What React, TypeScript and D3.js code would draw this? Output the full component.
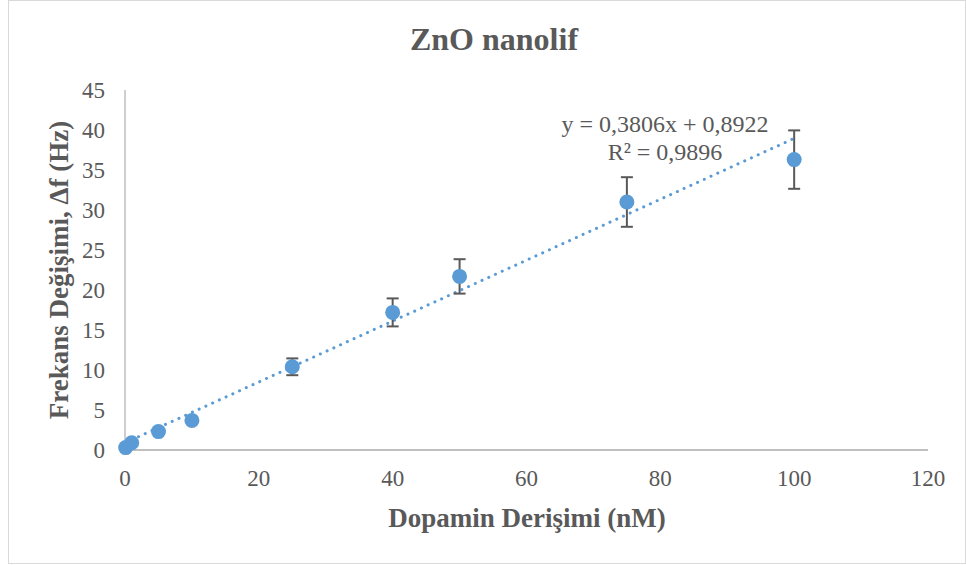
import React from "react";
import * as d3 from "d3";

const concentrations = [0.1, 1, 5, 10, 25, 40, 50, 75, 100];
const frequencyShift = [0.3, 0.9, 2.3, 3.7, 10.4, 17.2, 21.7, 31.0, 36.3];
const errors = [0.1, 0.2, 0.3, 0.3, 1.05, 1.75, 2.15, 3.1, 3.65];
const xTicks = [0, 20, 40, 60, 80, 100, 120];
const yTicks = [0, 5, 10, 15, 20, 25, 30, 35, 40, 45];
const slope = 0.3806;
const intercept = 0.8922;
const eqLine1 = "y = 0,3806x + 0,8922";
const eqLine2 = "R² = 0,9896";
const title = "ZnO nanolif";
const xLabel = "Dopamin Derişimi (nM)";
const yLabel = "Frekans Değişimi, Δf (Hz)";

const W = 966;
const H = 565;
const fontStyle = { fontFamily: "'Times New Roman', 'Liberation Serif', 'DejaVu Serif', serif" };
const textColor = "#595959";
const blue = "#5B9BD5";

export default function App() {
  const x = d3.scaleLinear().domain([0, 120]).range([125, 928]);
  const y = d3.scaleLinear().domain([0, 45]).range([450, 90]);
  const trend = d3
    .line<number>()
    .x((d) => x(d))
    .y((d) => y(slope * d + intercept));
  const cap = 6;

  return (
    <svg
      width={W}
      height={H}
      style={{ position: "absolute", left: 0, top: 0, background: "#fff" }}
    >
      <rect x={8.5} y={0.5} width={957} height={563} fill="#fff" stroke="#D9D9D9" strokeWidth={1} />
      <text x={494} y={50} textAnchor="middle" fontSize={32} fontWeight="bold" fill={textColor} style={fontStyle}>
        {title}
      </text>
      {/* axes */}
      <line x1={x(0)} x2={x(0)} y1={y(45)} y2={y(0)} stroke="#BFBFBF" strokeWidth={1.5} />
      <line x1={x(0)} x2={x(120)} y1={y(0)} y2={y(0)} stroke="#BFBFBF" strokeWidth={2} />
      {yTicks.map((t) => (
        <text key={"y" + t} x={105} y={y(t)} dy="0.34em" textAnchor="end" fontSize={23} fill={textColor} style={fontStyle}>
          {t}
        </text>
      ))}
      {xTicks.map((t) => (
        <text key={"x" + t} x={x(t)} y={486} textAnchor="middle" fontSize={23} fill={textColor} style={fontStyle}>
          {t}
        </text>
      ))}
      <text x={527} y={527} textAnchor="middle" fontSize={27} fontWeight="bold" fill={textColor} style={fontStyle}>
        {xLabel}
      </text>
      <text
        transform={`translate(68,270) rotate(-90)`}
        textAnchor="middle"
        fontSize={27}
        fontWeight="bold"
        fill={textColor}
        style={fontStyle}
      >
        {yLabel}
      </text>
      {/* trendline */}
      <path
        d={trend([0, 100]) || ""}
        fill="none"
        stroke={blue}
        strokeWidth={3}
        strokeDasharray="0.1 7.3"
        strokeLinecap="round"
      />
      {/* error bars */}
      {concentrations.map((c, i) => {
        const cx = x(c);
        const top = y(frequencyShift[i] + errors[i]);
        const bot = y(frequencyShift[i] - errors[i]);
        return (
          <g key={"e" + i} stroke="#595959" strokeWidth={2}>
            <line x1={cx} x2={cx} y1={top} y2={bot} />
            <line x1={cx - cap} x2={cx + cap} y1={top} y2={top} />
            <line x1={cx - cap} x2={cx + cap} y1={bot} y2={bot} />
          </g>
        );
      })}
      {/* points */}
      {concentrations.map((c, i) => (
        <circle key={"p" + i} cx={x(c)} cy={y(frequencyShift[i])} r={7.5} fill={blue} />
      ))}
      <text x={665} y={132} textAnchor="middle" fontSize={24} fill={textColor} style={fontStyle}>
        {eqLine1}
      </text>
      <text x={665} y={160} textAnchor="middle" fontSize={24} fill={textColor} style={fontStyle}>
        {eqLine2}
      </text>
    </svg>
  );
}
